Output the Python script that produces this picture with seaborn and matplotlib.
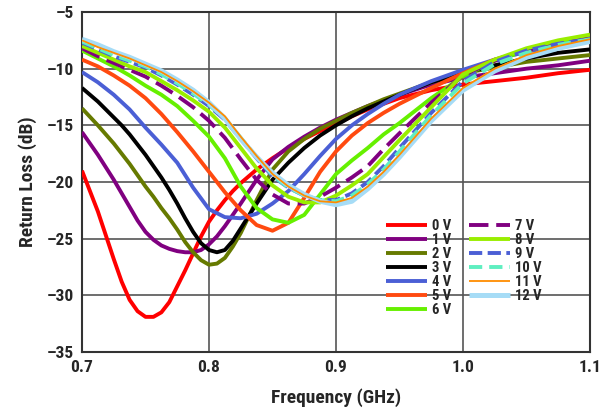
import matplotlib
matplotlib.use("Agg")
import matplotlib.pyplot as plt
import seaborn as sns
from matplotlib import font_manager as fm
from matplotlib.font_manager import FontProperties

# ---------------- data ----------------
# coarse frequency grid (GHz) used by 4 V .. 12 V
freq = [0.700, 0.7125, 0.725, 0.7375, 0.750, 0.7625, 0.775, 0.7875, 0.800, 0.8125,
        0.825, 0.8375, 0.850, 0.8625, 0.875, 0.8875, 0.900, 0.9125, 0.925, 0.9375,
        0.950, 0.975, 1.000, 1.025, 1.050, 1.075, 1.100]
# finer grid around the deep minima, used by 0 V .. 3 V
freq_fine = [0.700, 0.7125, 0.725, 0.73125, 0.7375, 0.74375, 0.750, 0.75625, 0.7625,
             0.76875, 0.775, 0.78125, 0.7875, 0.79375, 0.800, 0.80625, 0.8125, 0.81875,
             0.825, 0.8375, 0.850, 0.8625, 0.875, 0.8875, 0.900, 0.9125, 0.925, 0.9375,
             0.950, 0.975, 1.000, 1.025, 1.050, 1.075, 1.100]

v0 = [-19.0, -22.6, -26.8, -28.8, -30.4, -31.4, -31.9, -31.9, -31.5,
      -30.6, -29.2, -27.8, -26.3, -24.8, -23.5, -22.5, -21.6, -20.8,
      -20.1, -18.9, -17.9, -17.0, -16.2, -15.5, -14.9, -14.2, -13.6, -13.1,
      -12.6, -11.9, -11.4, -11.1, -10.8, -10.4, -10.1]
v1 = [-15.6, -17.6, -19.8, -21.0, -22.2, -23.4, -24.4, -25.1, -25.6,
      -25.9, -26.1, -26.2, -26.2, -26.0, -25.5, -24.8, -23.9, -22.9,
      -21.9, -19.8, -18.0, -16.9, -16.0, -15.2, -14.5, -13.9, -13.3, -12.8,
      -12.3, -11.4, -10.8, -10.4, -10.0, -9.7, -9.3]
v2 = [-13.5, -15.0, -16.6, -17.5, -18.4, -19.4, -20.4, -21.3, -22.3,
      -23.2, -24.2, -25.3, -26.2, -26.9, -27.3, -27.2, -26.7, -25.7,
      -24.5, -21.6, -18.9, -17.3, -16.2, -15.3, -14.6, -13.9, -13.3, -12.7,
      -12.2, -11.2, -10.4, -9.9, -9.4, -9.1, -8.8]
v3 = [-11.7, -12.9, -14.3, -15.0, -15.8, -16.7, -17.6, -18.6, -19.6,
      -20.7, -21.9, -23.2, -24.4, -25.4, -26.0, -26.2, -26.0, -25.2,
      -24.1, -21.9, -19.8, -18.3, -17.0, -15.9, -15.0, -14.2, -13.5, -12.9,
      -12.3, -11.2, -10.4, -9.7, -9.1, -8.6, -8.3]
v4 = [-10.3, -11.2, -12.3, -13.6, -15.2, -16.7, -18.3, -20.5, -22.4, -23.1,
      -23.2, -22.8, -21.9, -20.8, -19.3, -17.7, -16.2, -15.0, -14.0, -13.1,
      -12.3, -11.1, -10.1, -9.2, -8.5, -8.0, -7.5]
v5 = [-9.2, -9.8, -10.6, -11.5, -12.6, -14.0, -15.6, -17.3, -19.1, -20.9,
      -22.5, -23.8, -24.3, -23.6, -21.4, -19.1, -17.3, -15.9, -14.8, -13.9,
      -13.1, -11.7, -10.4, -9.2, -8.4, -7.8, -7.3]
v6 = [-8.4, -9.1, -9.8, -10.6, -11.5, -12.3, -13.3, -14.6, -16.0, -17.9,
      -20.4, -22.3, -23.3, -23.6, -22.9, -21.1, -19.3, -18.1, -17.0, -15.8,
      -14.8, -12.6, -10.7, -9.3, -8.4, -7.7, -7.2]
v7 = [-8.2, -8.9, -9.5, -10.1, -10.7, -11.5, -12.4, -13.4, -14.6, -16.1,
      -18.0, -19.8, -21.1, -21.9, -21.9, -21.3, -20.5, -19.6, -18.6, -17.1,
      -15.7, -13.0, -10.6, -9.3, -8.4, -7.6, -7.1]
v8 = [-8.0, -8.6, -9.2, -9.8, -10.3, -11.1, -11.9, -12.8, -13.8, -15.2,
      -17.0, -18.8, -20.3, -21.3, -21.8, -21.8, -21.2, -20.3, -19.3, -17.8,
      -16.3, -13.4, -10.5, -9.2, -8.2, -7.5, -7.0]
v9 = [-7.7, -8.3, -8.9, -9.4, -9.9, -10.6, -11.4, -12.3, -13.3, -14.5,
      -16.2, -17.9, -19.5, -20.5, -21.2, -21.6, -21.6, -21.0, -20.0, -18.6,
      -17.0, -13.9, -11.1, -9.4, -8.4, -7.8, -7.4]
v10 = [-7.6, -8.2, -8.8, -9.3, -9.8, -10.5, -11.3, -12.2, -13.2, -14.4,
       -16.1, -17.8, -19.4, -20.5, -21.2, -21.6, -21.7, -21.2, -20.2, -18.9,
       -17.3, -14.1, -11.3, -9.6, -8.6, -7.9, -7.4]
v11 = [-7.5, -8.1, -8.6, -9.1, -9.7, -10.3, -11.1, -12.0, -13.0, -14.2,
       -16.0, -17.7, -19.3, -20.4, -21.2, -21.7, -21.8, -21.4, -20.4, -19.1,
       -17.6, -14.4, -11.7, -10.0, -8.8, -8.0, -7.4]
v12 = [-7.4, -7.9, -8.5, -9.0, -9.6, -10.2, -11.0, -11.9, -13.0, -14.4,
       -16.2, -17.8, -19.2, -20.3, -21.1, -21.7, -22.0, -21.7, -20.6, -19.3,
       -17.8, -14.6, -11.9, -10.2, -9.0, -8.2, -7.6]

labels = ["0 V", "1 V", "2 V", "3 V", "4 V", "5 V", "6 V",
          "7 V", "8 V", "9 V", "10 V", "11 V", "12 V"]
series = [v0, v1, v2, v3, v4, v5, v6, v7, v8, v9, v10, v11, v12]
grids = [freq_fine] * 4 + [freq] * 9

x_ticks = [0.7, 0.8, 0.9, 1.0, 1.1]
x_ticklabels = ["0.7", "0.8", "0.9", "1.0", "1.1"]
y_ticks = [-35, -30, -25, -20, -15, -10, -5]

# ---------------- style ----------------
colors = ["#ff0000", "#800080", "#667a00", "#000000", "#4b5fd5", "#ff4a10", "#66f000",
          "#800080", "#99ee00", "#4b5fd5", "#5fefc0", "#ff8c00", "#a6dcf6"]
widths = [2.8, 2.8, 2.8, 2.8, 2.8, 2.8, 2.8, 2.8, 2.8, 2.8, 2.8, 1.3, 3.6]
dash_styles = [None, None, None, None, None, None, None,
               (5.0, 2.0), None, (3.4, 1.4), (3.4, 1.8), None, None]
zorders = [3, 3, 3, 3, 3, 3, 3, 3, 3, 3, 3, 5, 4]

sns.set_style("white")


def pick_font():
    fl = fm.fontManager.ttflist
    def is_bold(f):
        return f.weight in (700, "bold") or "Bold" in f.fname
    cond = [f for f in fl
            if ("Narrow" in f.fname or "Condensed" in f.fname or "Cond" in f.name
                or "Narrow" in f.name)
            and is_bold(f) and "Semi" not in f.fname and "Extra" not in f.fname
            and "Italic" not in f.fname and "Oblique" not in f.fname]
    pref = ["Liberation", "Roboto", "Noto", "Open", "DejaVu", "Lato", "Inter"]
    for p in pref:
        for f in cond:
            if p in f.fname or p in f.name:
                return f.fname, True
    for f in fl:
        if f.name == "Liberation Sans" and is_bold(f) and "Italic" not in f.fname:
            return f.fname, False
    return None, False


fpath, condensed = pick_font()


def fp(size):
    if fpath:
        return FontProperties(fname=fpath, size=size)
    return FontProperties(family="DejaVu Sans", weight="bold", size=size)


scale = 1.0 if condensed else 0.92

fig = plt.figure(figsize=(6.11, 4.17), dpi=100)
ax = fig.add_axes([82 / 611, 1 - 352 / 417, (590 - 82) / 611, (352 - 12) / 417])

handles = []
for fx, vals, lab, c, w, d, z in zip(grids, series, labels, colors, widths,
                                      dash_styles, zorders):
    sns.lineplot(x=fx, y=vals, ax=ax, color=c, linewidth=w, zorder=z,
                 label=lab, legend=False, sort=False)
    ln = ax.lines[-1]
    if d is not None:
        ln.set_dashes(d)
    ln.set_solid_capstyle("butt")
    ln.set_solid_joinstyle("round")
    handles.append(ln)

ax.set_xlim(0.7, 1.1)
ax.set_ylim(-35, -5)
ax.set_xticks(x_ticks)
ax.set_xticklabels(x_ticklabels, fontproperties=fp(12.5 * scale))
ax.set_yticks(y_ticks)
ax.set_yticklabels([f"\u2013{abs(t)}" for t in y_ticks], fontproperties=fp(12.5 * scale))
ax.grid(True, color="#555555", linewidth=1.2, zorder=0)
ax.set_axisbelow(True)
for s in ax.spines.values():
    s.set_visible(True)
    s.set_color("#333333")
    s.set_linewidth(1.5)
ax.tick_params(axis="both", length=0, pad=6)

ax.set_xlabel("Frequency (GHz)", fontproperties=fp(14 * scale), labelpad=9)
ax.set_ylabel("Return Loss (dB)", fontproperties=fp(14 * scale), labelpad=7)

leg = ax.legend(handles=handles, labels=labels, ncol=2, frameon=False,
                loc="upper left", bbox_to_anchor=(386 / 611, 1 - 219 / 417),
                bbox_transform=fig.transFigure, borderaxespad=0.0,
                prop=fp(10.5 * scale), handlelength=2.8, handletextpad=0.35,
                labelspacing=0.0, columnspacing=1.25, borderpad=0.0)

fig.savefig("out.png", dpi=100)
